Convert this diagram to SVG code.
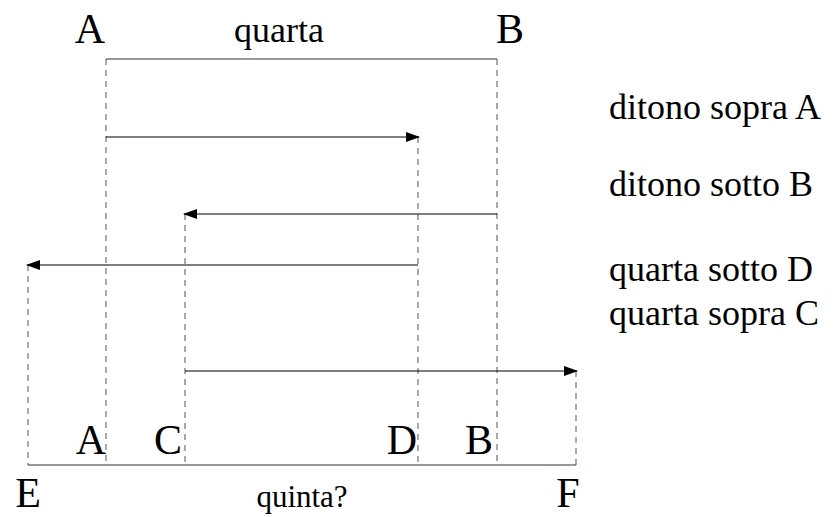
<svg xmlns="http://www.w3.org/2000/svg" width="838" height="517" viewBox="0 0 838 517">
<style>
text{font-family:"Liberation Serif","Times New Roman",serif;fill:#000}
.big{font-size:42px}
.mid{font-size:36px}
.q5{font-size:31px}
.lbl{font-size:36px}
.dash{stroke:#555;stroke-width:1;stroke-dasharray:6 5;fill:none}
.solid{stroke:#333;stroke-width:1.2;fill:none}
.arr{stroke:#000;stroke-width:1.2;fill:none;marker-end:url(#ah)}
</style>
<defs>
<marker id="ah" markerWidth="14" markerHeight="10" refX="13" refY="5" orient="auto" markerUnits="userSpaceOnUse">
<path d="M0,0 L14,5 L0,10 Z" fill="#000"/>
</marker>
</defs>
<rect width="838" height="517" fill="#fff"/>
<g id="guides">
<line class="dash" x1="106" y1="59" x2="106" y2="465"/>
<line class="dash" x1="497" y1="59" x2="497" y2="465"/>
<line class="dash" x1="418" y1="137" x2="418" y2="465"/>
<line class="dash" x1="185" y1="214" x2="185" y2="465"/>
<line class="dash" x1="28" y1="265" x2="28" y2="465"/>
<line class="dash" x1="576" y1="371" x2="576" y2="465"/>
</g>
<g id="connectors">
<line class="solid" x1="106" y1="59" x2="497" y2="59"/>
<line class="solid" x1="28" y1="465" x2="576" y2="465"/>
<line class="arr" x1="106" y1="137" x2="419" y2="137"/>
<line class="arr" x1="497" y1="214" x2="184" y2="214"/>
<line class="arr" x1="418" y1="265" x2="27" y2="265"/>
<line class="arr" x1="185" y1="371" x2="577" y2="371"/>
</g>
<g id="top-labels">
<text class="big" x="90" y="43" text-anchor="middle">A</text>
<text class="mid" x="279" y="42" text-anchor="middle">quarta</text>
<text class="big" x="510" y="43" text-anchor="middle">B</text>
</g>
<g id="side-labels">
<text class="lbl" x="609" y="119">ditono sopra A</text>
<text class="lbl" x="609" y="196">ditono sotto B</text>
<text class="lbl" x="609" y="281">quarta sotto D</text>
<text class="lbl" x="609" y="325">quarta sopra C</text>
</g>
<g id="bottom-labels">
<text class="big" x="91" y="454" text-anchor="middle">A</text>
<text class="big" x="168" y="454" text-anchor="middle">C</text>
<text class="big" x="402" y="454" text-anchor="middle">D</text>
<text class="big" x="479" y="454" text-anchor="middle">B</text>
<text class="big" x="28" y="507" text-anchor="middle">E</text>
<text class="q5" x="302" y="507" text-anchor="middle">quinta?</text>
<text class="big" x="568" y="507" text-anchor="middle">F</text>
</g>
</svg>
